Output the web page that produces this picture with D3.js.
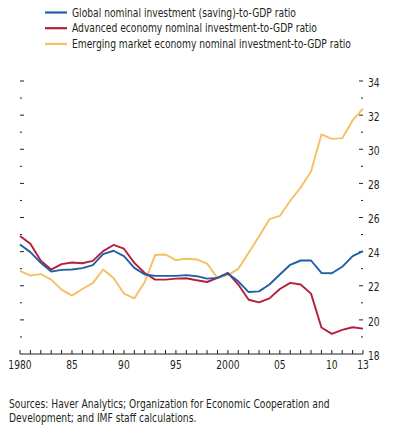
<!DOCTYPE html>
<html>
<head>
<meta charset="utf-8">
<script src="https://cdn.jsdelivr.net/npm/d3@7"></script>
<style>
  body { margin: 0; background: #fff; }
  svg text { font-family: "Liberation Sans Narrow", "DejaVu Sans Condensed", sans-serif; fill: #231f20; font-size: 12px; }
</style>
</head>
<body>
<svg id="chart" width="400" height="433"></svg>
<script>
var years = d3.range( 1980, 2014 );

var globalRatio = [ 24.42, 23.97, 23.34, 22.83, 22.93, 22.95, 23.03, 23.21, 23.85, 24.05,
    23.74, 23.05, 22.66, 22.58, 22.58, 22.58, 22.62, 22.56, 22.42, 22.46,
    22.72, 22.26, 21.63, 21.67, 22.07, 22.66, 23.23, 23.48, 23.48, 22.75,
    22.73, 23.11, 23.74, 24.03 ];

var advancedRatio = [ 24.92, 24.46, 23.46, 22.95, 23.27, 23.36, 23.32, 23.46, 24.03, 24.39,
    24.17, 23.34, 22.75, 22.36, 22.36, 22.42, 22.44, 22.32, 22.22, 22.46,
    22.75, 22.07, 21.18, 21.03, 21.26, 21.81, 22.17, 22.07, 21.54, 19.55,
    19.18, 19.41, 19.57, 19.49 ];

var emergingRatio = [ 22.87, 22.60, 22.68, 22.36, 21.77, 21.42, 21.81, 22.15, 22.95, 22.46,
    21.54, 21.26, 22.22, 23.80, 23.83, 23.50, 23.58, 23.54, 23.30, 22.46,
    22.62, 22.99, 23.93, 24.88, 25.90, 26.09, 26.98, 27.76, 28.69, 30.87,
    30.61, 30.65, 31.69, 32.38 ];

var seriesNames = [
    "Global nominal investment (saving)-to-GDP ratio",
    "Advanced economy nominal investment-to-GDP ratio",
    "Emerging market economy nominal investment-to-GDP ratio"
];
var seriesColors = [ "#1f5fa5", "#b41e3c", "#f6bf63" ];

var xLabelYears = [ 1980, 1985, 1990, 1995, 2000, 2005, 2010, 2013 ];
var xLabelText = [ "1980", "85", "90", "95", "2000", "05", "10", "13" ];
var yTicks = d3.range( 19, 35, 1 );
var yLabels = [ 18, 20, 22, 24, 26, 28, 30, 32, 34 ];

var svg = d3.select( "#chart" );

var x = d3.scaleLinear().domain( [ 1980, 2013 ] ).range( [ 20, 363 ] );
var y = d3.scaleLinear().domain( [ 18, 34 ] ).range( [ 354, 81 ] );

// narrow text: the original face is a condensed one
var squeeze = 0.85;
function label( parent, px, py, str, anchor ) {
    return parent.append( "text" )
        .attr( "transform", "translate(" + px + "," + py + ") scale(" + squeeze + ",1)" )
        .attr( "text-anchor", anchor || "start" )
        .text( str );
}

// legend
seriesNames.forEach( function( name, i ) {
    var ry = 12.5 + i * 15.7;
    svg.append( "line" )
        .attr( "x1", 45 ).attr( "x2", 67 )
        .attr( "y1", ry ).attr( "y2", ry )
        .attr( "stroke", seriesColors[ i ] ).attr( "stroke-width", 2.2 );
    label( svg, 72, ry + 4.2, name );
} );

// left ticks (no labels)
svg.append( "g" ).selectAll( "line" ).data( yTicks ).join( "line" )
    .attr( "x1", 20 )
    .attr( "x2", function( d ) { return d % 2 === 0 ? 24 : 22; } )
    .attr( "y1", function( d ) { return y( d ); } )
    .attr( "y2", function( d ) { return y( d ); } )
    .attr( "stroke", "#231f20" ).attr( "stroke-width", 1 );

// right ticks
svg.append( "g" ).selectAll( "line" ).data( yTicks ).join( "line" )
    .attr( "x1", function( d ) { return d % 2 === 0 ? 359 : 361; } )
    .attr( "x2", 363 )
    .attr( "y1", function( d ) { return y( d ); } )
    .attr( "y2", function( d ) { return y( d ); } )
    .attr( "stroke", "#231f20" ).attr( "stroke-width", 1 );

yLabels.forEach( function( d ) {
    label( svg, 368, y( d ) + ( d === 18 ? 2 : 1.5 ) + 4.2, d );
} );

// x axis
svg.append( "line" )
    .attr( "x1", x( 1980 ) ).attr( "x2", x( 2013 ) )
    .attr( "y1", y( 18 ) ).attr( "y2", y( 18 ) )
    .attr( "stroke", "#231f20" ).attr( "stroke-width", 1 );

svg.append( "g" ).selectAll( "line" ).data( years ).join( "line" )
    .attr( "x1", function( d ) { return x( d ); } )
    .attr( "x2", function( d ) { return x( d ); } )
    .attr( "y1", y( 18 ) ).attr( "y2", y( 18 ) - 4 )
    .attr( "stroke", "#231f20" ).attr( "stroke-width", 1 );

xLabelYears.forEach( function( d, i ) {
    label( svg, x( d ), 369, xLabelText[ i ], "middle" );
} );

// series lines
var line = d3.line()
    .x( function( d, i ) { return x( years[ i ] ); } )
    .y( function( d ) { return y( d ); } );

[ emergingRatio, advancedRatio, globalRatio ].forEach( function( values, k ) {
    svg.append( "path" )
        .datum( values )
        .attr( "d", line )
        .attr( "fill", "none" )
        .attr( "stroke", seriesColors[ 2 - k ] )
        .attr( "stroke-width", 1.9 )
        .attr( "stroke-linejoin", "round" );
} );

// source note
label( svg, 9, 408, "Sources: Haver Analytics; Organization for Economic Cooperation and" );
label( svg, 9, 422, "Development; and IMF staff calculations." );
</script>
</body>
</html>
